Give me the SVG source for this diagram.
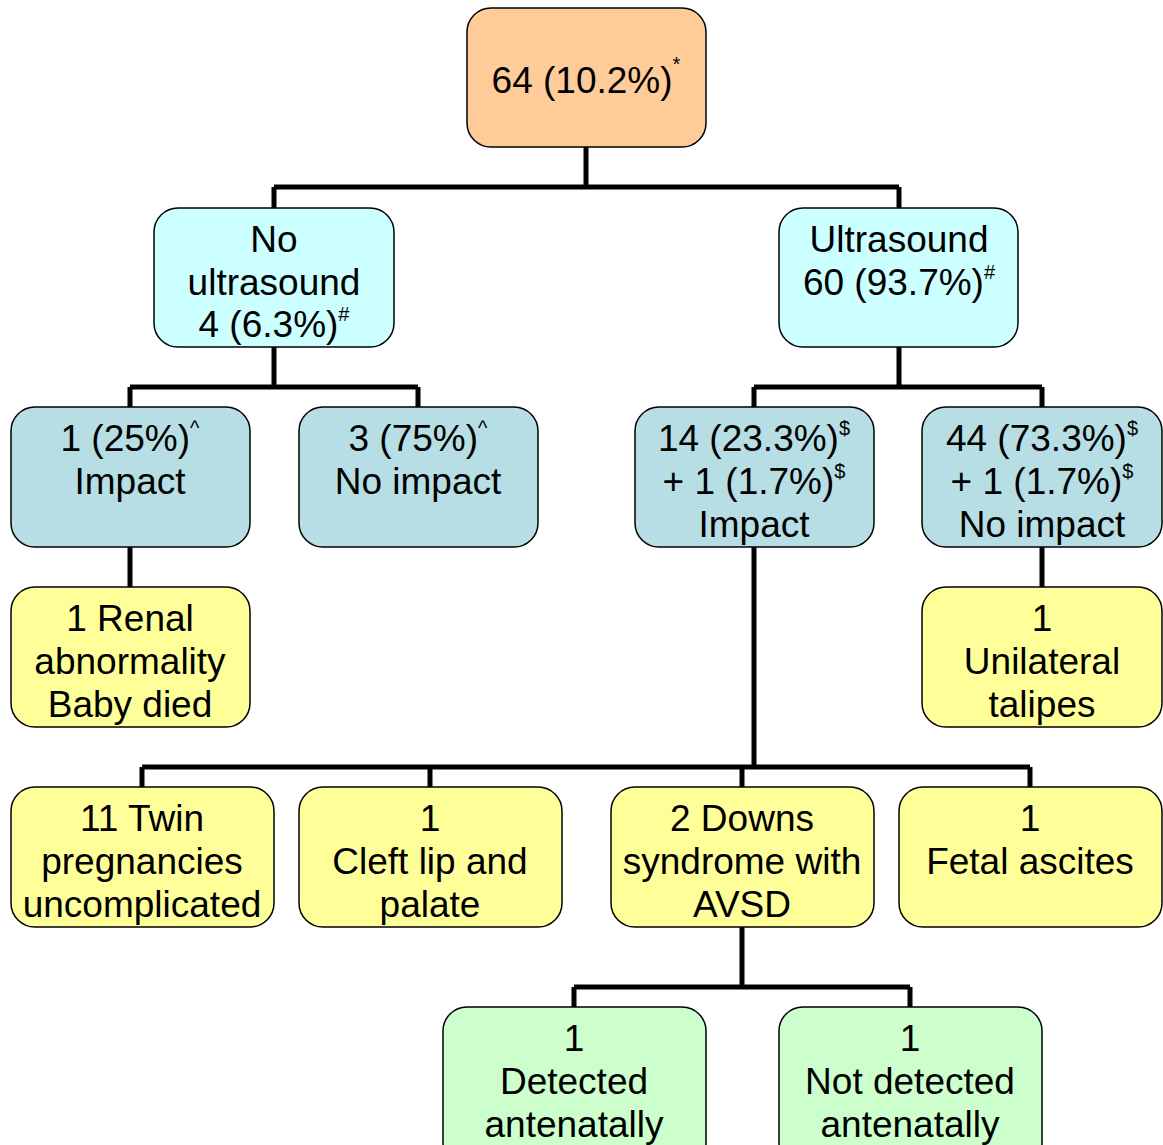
<svg xmlns="http://www.w3.org/2000/svg" width="1163" height="1145" viewBox="0 0 1163 1145">
<style>
.box{stroke:#000;stroke-width:1.5}
.peach{fill:#FFCC99}
.cyan{fill:#CCFFFF}
.teal{fill:#B7DEE4}
.yellow{fill:#FFFF99}
.green{fill:#CCFFCC}
text{font-family:"Liberation Sans",Arial,sans-serif;font-size:37px;fill:#000;text-anchor:middle}
.sup{font-size:20px}
.conn path{fill:none;stroke:#000;stroke-width:5}
</style>
<rect width="1163" height="1145" fill="#fff"/>
<g class="conn">
<path d="M586,147 V187 M274,187 H899 M274,187 V208 M899,187 V208"/>
<path d="M274,347 V387 M130,387 H418 M130,387 V407 M418,387 V407"/>
<path d="M899,347 V387 M754,387 H1042 M754,387 V407 M1042,387 V407"/>
<path d="M130,547 V587 M1042,547 V587"/>
<path d="M754,547 V767 M142,767 H1030 M142,767 V787 M430,767 V787 M742,767 V787 M1030,767 V787"/>
<path d="M742,927 V987 M574,987 H910 M574,987 V1007 M910,987 V1007"/>
</g>
<g id="root"><rect class="box peach" x="467" y="8" width="239" height="139" rx="24"/>
<text x="586" y="93">64 (10.2%)<tspan class="sup" dy="-22">*</tspan></text></g>
<g id="no-us"><rect class="box cyan" x="154" y="208" width="240" height="139" rx="24"/>
<text x="274" y="252">No</text><text x="274" y="295">ultrasound</text>
<text x="274" y="337">4 (6.3%)<tspan class="sup" dy="-16">#</tspan></text></g>
<g id="us"><rect class="box cyan" x="779" y="208" width="239" height="139" rx="24"/>
<text x="899" y="252">Ultrasound</text>
<text x="899" y="295">60 (93.7%)<tspan class="sup" dy="-16">#</tspan></text></g>
<g id="no-us-impact"><rect class="box teal" x="11" y="407" width="239" height="140" rx="24"/>
<text x="130" y="451">1 (25%)<tspan class="sup" dy="-16">^</tspan></text><text x="130" y="494">Impact</text></g>
<g id="no-us-noimpact"><rect class="box teal" x="299" y="407" width="239" height="140" rx="24"/>
<text x="418" y="451">3 (75%)<tspan class="sup" dy="-16">^</tspan></text><text x="418" y="494">No impact</text></g>
<g id="us-impact"><rect class="box teal" x="635" y="407" width="239" height="140" rx="24"/>
<text x="754" y="451">14 (23.3%)<tspan class="sup" dy="-16">$</tspan></text>
<text x="754" y="494">+ 1 (1.7%)<tspan class="sup" dy="-16">$</tspan></text>
<text x="754" y="537">Impact</text></g>
<g id="us-noimpact"><rect class="box teal" x="922" y="407" width="240" height="140" rx="24"/>
<text x="1042" y="451">44 (73.3%)<tspan class="sup" dy="-16">$</tspan></text>
<text x="1042" y="494">+ 1 (1.7%)<tspan class="sup" dy="-16">$</tspan></text>
<text x="1042" y="537">No impact</text></g>
<g id="renal"><rect class="box yellow" x="11" y="587" width="239" height="140" rx="24"/>
<text x="130" y="631">1 Renal</text><text x="130" y="674">abnormality</text><text x="130" y="717">Baby died</text></g>
<g id="talipes"><rect class="box yellow" x="922" y="587" width="240" height="140" rx="24"/>
<text x="1042" y="631">1</text><text x="1042" y="674">Unilateral</text><text x="1042" y="717">talipes</text></g>
<g id="twin"><rect class="box yellow" x="11" y="787" width="263" height="140" rx="24"/>
<text x="142" y="831">11 Twin</text><text x="142" y="874">pregnancies</text><text x="142" y="917">uncomplicated</text></g>
<g id="cleft"><rect class="box yellow" x="299" y="787" width="263" height="140" rx="24"/>
<text x="430" y="831">1</text><text x="430" y="874">Cleft lip and</text><text x="430" y="917">palate</text></g>
<g id="downs"><rect class="box yellow" x="611" y="787" width="263" height="140" rx="24"/>
<text x="742" y="831">2 Downs</text><text x="742" y="874">syndrome with</text><text x="742" y="917">AVSD</text></g>
<g id="ascites"><rect class="box yellow" x="899" y="787" width="263" height="140" rx="24"/>
<text x="1030" y="831">1</text><text x="1030" y="874">Fetal ascites</text></g>
<g id="detected"><rect class="box green" x="443" y="1007" width="263" height="160" rx="24"/>
<text x="574" y="1051">1</text><text x="574" y="1094">Detected</text><text x="574" y="1137">antenatally</text></g>
<g id="notdetected"><rect class="box green" x="779" y="1007" width="263" height="160" rx="24"/>
<text x="910" y="1051">1</text><text x="910" y="1094">Not detected</text><text x="910" y="1137">antenatally</text></g>
</svg>
